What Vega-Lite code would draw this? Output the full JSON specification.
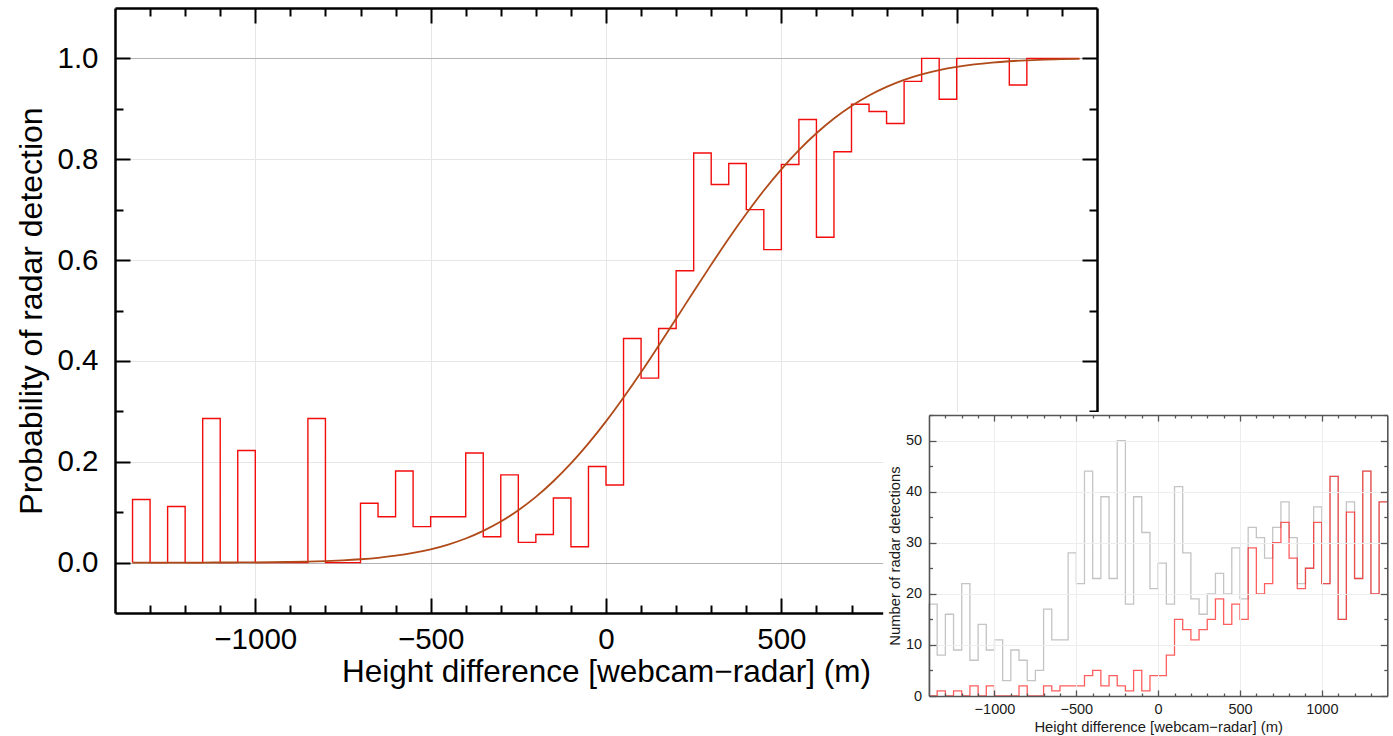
{
  "$schema": "https://vega.github.io/schema/vega-lite/v6.json",
  "width": 982,
  "height": 605,
  "autosize": {"type": "none"},
  "padding": {"left": 115, "top": 8, "right": 296, "bottom": 123},
  "background": "white",
  "config": {
    "view": {"stroke": null},
    "font": "Liberation Sans",
    "axis": {
      "labelFont": "Liberation Sans",
      "titleFont": "Liberation Sans",
      "labelColor": "black",
      "titleColor": "black",
      "titleFontWeight": "normal",
      "tickColor": "black",
      "domainColor": "black",
      "labelOverlap": false,
      "labelFlush": false
    }
  },
  "datasets": {
    "main": [
      {"x": -1350, "p": 0},
      {"x": -1300, "p": 0.125},
      {"x": -1250, "p": 0},
      {"x": -1200, "p": 0.1111},
      {"x": -1150, "p": 0},
      {"x": -1100, "p": 0.2857},
      {"x": -1050, "p": 0},
      {"x": -1000, "p": 0.2222},
      {"x": -950, "p": 0},
      {"x": -900, "p": 0},
      {"x": -850, "p": 0},
      {"x": -800, "p": 0.2857},
      {"x": -750, "p": 0},
      {"x": -700, "p": 0},
      {"x": -650, "p": 0.1176},
      {"x": -600, "p": 0.0909},
      {"x": -550, "p": 0.1818},
      {"x": -500, "p": 0.0714},
      {"x": -450, "p": 0.0909},
      {"x": -400, "p": 0.0909},
      {"x": -350, "p": 0.2174},
      {"x": -300, "p": 0.0513},
      {"x": -250, "p": 0.1739},
      {"x": -200, "p": 0.04},
      {"x": -150, "p": 0.0556},
      {"x": -100, "p": 0.1282},
      {"x": -50, "p": 0.0313},
      {"x": 0, "p": 0.1905},
      {"x": 50, "p": 0.1538},
      {"x": 100, "p": 0.4444},
      {"x": 150, "p": 0.3659},
      {"x": 200, "p": 0.4643},
      {"x": 250, "p": 0.5789},
      {"x": 300, "p": 0.8125},
      {"x": 350, "p": 0.75},
      {"x": 400, "p": 0.7917},
      {"x": 450, "p": 0.7},
      {"x": 500, "p": 0.6207},
      {"x": 550, "p": 0.7895},
      {"x": 600, "p": 0.8788},
      {"x": 650, "p": 0.6452},
      {"x": 700, "p": 0.8148},
      {"x": 750, "p": 0.9091},
      {"x": 800, "p": 0.8947},
      {"x": 850, "p": 0.871},
      {"x": 900, "p": 0.9545},
      {"x": 950, "p": 1.0},
      {"x": 1000, "p": 0.9189},
      {"x": 1050, "p": 1.0},
      {"x": 1100, "p": 1.0},
      {"x": 1150, "p": 1.0},
      {"x": 1200, "p": 0.9474},
      {"x": 1250, "p": 1.0},
      {"x": 1300, "p": 1.0},
      {"x": 1350, "p": 1.0}
    ],
    "curve": [
      {"x": -1350, "p": 0.0000},
      {"x": -1300, "p": 0.0000},
      {"x": -1250, "p": 0.0000},
      {"x": -1200, "p": 0.0001},
      {"x": -1150, "p": 0.0001},
      {"x": -1100, "p": 0.0002},
      {"x": -1050, "p": 0.0003},
      {"x": -1000, "p": 0.0005},
      {"x": -950, "p": 0.0008},
      {"x": -900, "p": 0.0013},
      {"x": -850, "p": 0.0020},
      {"x": -800, "p": 0.0030},
      {"x": -750, "p": 0.0045},
      {"x": -700, "p": 0.0066},
      {"x": -650, "p": 0.0095},
      {"x": -600, "p": 0.0136},
      {"x": -550, "p": 0.0191},
      {"x": -500, "p": 0.0263},
      {"x": -450, "p": 0.0358},
      {"x": -400, "p": 0.0478},
      {"x": -350, "p": 0.0629},
      {"x": -300, "p": 0.0814},
      {"x": -250, "p": 0.1038},
      {"x": -200, "p": 0.1303},
      {"x": -150, "p": 0.1613},
      {"x": -100, "p": 0.1966},
      {"x": -50, "p": 0.2364},
      {"x": 0, "p": 0.2800},
      {"x": 50, "p": 0.3274},
      {"x": 100, "p": 0.3775},
      {"x": 150, "p": 0.4301},
      {"x": 200, "p": 0.4837},
      {"x": 250, "p": 0.5378},
      {"x": 300, "p": 0.5910},
      {"x": 350, "p": 0.6428},
      {"x": 400, "p": 0.6918},
      {"x": 450, "p": 0.7379},
      {"x": 500, "p": 0.7800},
      {"x": 550, "p": 0.8180},
      {"x": 600, "p": 0.8515},
      {"x": 650, "p": 0.8808},
      {"x": 700, "p": 0.9056},
      {"x": 750, "p": 0.9265},
      {"x": 800, "p": 0.9435},
      {"x": 850, "p": 0.9574},
      {"x": 900, "p": 0.9683},
      {"x": 950, "p": 0.9768},
      {"x": 1000, "p": 0.9833},
      {"x": 1050, "p": 0.9882},
      {"x": 1100, "p": 0.9918},
      {"x": 1150, "p": 0.9944},
      {"x": 1200, "p": 0.9962},
      {"x": 1250, "p": 0.9975},
      {"x": 1300, "p": 0.9984},
      {"x": 1350, "p": 0.9990}
    ],
    "inset": [
      {"x": -1400, "all": 0, "detected": 0},
      {"x": -1350, "all": 18, "detected": 0},
      {"x": -1300, "all": 8, "detected": 1},
      {"x": -1250, "all": 16, "detected": 0},
      {"x": -1200, "all": 9, "detected": 1},
      {"x": -1150, "all": 22, "detected": 0},
      {"x": -1100, "all": 7, "detected": 2},
      {"x": -1050, "all": 14, "detected": 0},
      {"x": -1000, "all": 9, "detected": 2},
      {"x": -950, "all": 11, "detected": 0},
      {"x": -900, "all": 3, "detected": 0},
      {"x": -850, "all": 9, "detected": 0},
      {"x": -800, "all": 7, "detected": 2},
      {"x": -750, "all": 3, "detected": 0},
      {"x": -700, "all": 5, "detected": 0},
      {"x": -650, "all": 17, "detected": 2},
      {"x": -600, "all": 11, "detected": 1},
      {"x": -550, "all": 11, "detected": 2},
      {"x": -500, "all": 28, "detected": 2},
      {"x": -450, "all": 22, "detected": 2},
      {"x": -400, "all": 44, "detected": 4},
      {"x": -350, "all": 23, "detected": 5},
      {"x": -300, "all": 39, "detected": 2},
      {"x": -250, "all": 23, "detected": 4},
      {"x": -200, "all": 50, "detected": 2},
      {"x": -150, "all": 18, "detected": 1},
      {"x": -100, "all": 39, "detected": 5},
      {"x": -50, "all": 32, "detected": 1},
      {"x": 0, "all": 21, "detected": 4},
      {"x": 50, "all": 26, "detected": 4},
      {"x": 100, "all": 18, "detected": 8},
      {"x": 150, "all": 41, "detected": 15},
      {"x": 200, "all": 28, "detected": 13},
      {"x": 250, "all": 19, "detected": 11},
      {"x": 300, "all": 16, "detected": 13},
      {"x": 350, "all": 20, "detected": 15},
      {"x": 400, "all": 24, "detected": 19},
      {"x": 450, "all": 20, "detected": 14},
      {"x": 500, "all": 29, "detected": 18},
      {"x": 550, "all": 19, "detected": 15},
      {"x": 600, "all": 33, "detected": 29},
      {"x": 650, "all": 31, "detected": 20},
      {"x": 700, "all": 27, "detected": 22},
      {"x": 750, "all": 33, "detected": 30},
      {"x": 800, "all": 38, "detected": 34},
      {"x": 850, "all": 31, "detected": 27},
      {"x": 900, "all": 22, "detected": 21},
      {"x": 950, "all": 25, "detected": 25},
      {"x": 1000, "all": 37, "detected": 34},
      {"x": 1050, "all": 22, "detected": 22},
      {"x": 1100, "all": 43, "detected": 43},
      {"x": 1150, "all": 15, "detected": 15},
      {"x": 1200, "all": 38, "detected": 36},
      {"x": 1250, "all": 23, "detected": 23},
      {"x": 1300, "all": 44, "detected": 44},
      {"x": 1350, "all": 20, "detected": 20},
      {"x": 1400, "all": 38, "detected": 38}
    ]
  },
  "layer": [
    {
      "layer": [
        {
          "data": {"name": "main"},
          "mark": {"type": "line", "interpolate": "step-before", "color": "#f20c0c", "strokeWidth": 1.4},
          "encoding": {
            "x": {"field": "x", "type": "quantitative",
              "scale": {"domain": [-1400, 1400], "nice": false, "zero": false},
              "axis": {"orient": "bottom", "values": [-1000, -500, 0, 500, 1000], "format": "d",
                "tickSize": -15, "tickWidth": 2, "domainWidth": 2.5, "labelFontSize": 29.5, "labelPadding": 27.5,
                "grid": true, "gridColor": "#e6e6e6", "gridWidth": 1,
                "title": "Height difference [webcam−radar] (m)", "titleFontSize": 31.5, "titleBaseline": "alphabetic", "titleY": 68, "zindex": 0}},
            "y": {"field": "p", "type": "quantitative",
              "scale": {"domain": [-0.1, 1.1], "nice": false, "zero": false},
              "axis": {"orient": "left", "values": [0, 0.2, 0.4, 0.6, 0.8, 1.0], "format": ".1f",
                "tickSize": -15, "tickWidth": 2, "domainWidth": 2.5, "labelFontSize": 29.5, "labelPadding": 32,
                "grid": true, "gridWidth": 1,
                "gridColor": {"condition": {"test": "datum.value === 0 || datum.value === 1", "value": "#b4b4b4"}, "value": "#e6e6e6"},
                "title": "Probability of radar detection", "titleFontSize": 32, "titleBaseline": "alphabetic", "titleX": -74, "zindex": 0}}
          }
        },
        {
          "data": {"name": "curve"},
          "mark": {"type": "line", "interpolate": "monotone", "color": "#b04a18", "strokeWidth": 1.8},
          "encoding": {
            "x": {"field": "x", "type": "quantitative",
              "axis": {"orient": "bottom", "values": [-1300, -1200, -1100, -900, -800, -700, -600, -400, -300, -200, -100, 100, 200, 300, 400, 600, 700, 800, 900, 1100, 1200, 1300],
                "tickSize": -8, "tickWidth": 2, "labels": false, "domain": false, "grid": false, "title": null, "zindex": 0}},
            "y": {"field": "p", "type": "quantitative",
              "axis": {"orient": "left", "values": [0.1, 0.3, 0.5, 0.7, 0.9],
                "tickSize": -8, "tickWidth": 2, "labels": false, "domain": false, "grid": false, "title": null, "zindex": 0}}
          }
        },
        {
          "data": {"name": "curve"},
          "mark": {"type": "line", "strokeOpacity": 0},
          "encoding": {
            "x": {"field": "x", "type": "quantitative",
              "axis": {"orient": "top", "values": [-1000, -500, 0, 500, 1000],
                "tickSize": -15, "tickWidth": 2, "domainWidth": 2.5, "labels": false, "grid": false, "title": null, "zindex": 0}},
            "y": {"field": "p", "type": "quantitative",
              "axis": {"orient": "right", "values": [0, 0.2, 0.4, 0.6, 0.8, 1.0],
                "tickSize": -15, "tickWidth": 2, "domainWidth": 2.5, "labels": false, "grid": false, "title": null, "zindex": 0}}
          }
        },
        {
          "data": {"name": "curve"},
          "mark": {"type": "line", "strokeOpacity": 0},
          "encoding": {
            "x": {"field": "x", "type": "quantitative",
              "axis": {"orient": "top", "values": [-1300, -1200, -1100, -900, -800, -700, -600, -400, -300, -200, -100, 100, 200, 300, 400, 600, 700, 800, 900, 1100, 1200, 1300],
                "tickSize": -8, "tickWidth": 2, "labels": false, "domain": false, "grid": false, "title": null, "zindex": 0}},
            "y": {"field": "p", "type": "quantitative",
              "axis": {"orient": "right", "values": [0.1, 0.3, 0.5, 0.7, 0.9],
                "tickSize": -8, "tickWidth": 2, "labels": false, "domain": false, "grid": false, "title": null, "zindex": 0}}
          }
        }
      ],
      "resolve": {"axis": {"x": "independent", "y": "independent"}}
    },
    {
      "layer": [
        {
          "data": {"values": [{}]},
          "mark": {"type": "rect", "color": "white", "strokeWidth": 0},
          "encoding": {
            "x": {"datum": -1680, "type": "quantitative",
              "scale": {"domain": [-1400, 1400], "range": [814, 1272.3], "nice": false, "zero": false}, "axis": null},
            "x2": {"datum": 1440},
            "y": {"datum": 55.6, "type": "quantitative",
              "scale": {"domain": [0, 55], "range": [688, 407], "nice": false, "zero": false}, "axis": null},
            "y2": {"datum": -8}
          }
        },
        {
          "data": {"name": "inset"},
          "mark": {"type": "line", "interpolate": "step-before", "color": "#c4c4c4", "strokeWidth": 1.3},
          "encoding": {
            "x": {"field": "x", "type": "quantitative",
              "axis": {"orient": "bottom", "offset": 83, "values": [-1000, -500, 0, 500, 1000], "format": "d",
                "tickSize": -6, "tickWidth": 1.3, "tickColor": "#555555", "domainColor": "#555555", "domainWidth": 1.6,
                "labelFontSize": 14.5, "labelPadding": 12, "labelColor": "#1a1a1a",
                "grid": false,
                "title": "Height difference [webcam−radar] (m)", "titleFontSize": 14.8, "titleColor": "#1a1a1a", "titleBaseline": "alphabetic", "titleY": 35.5, "zindex": 1}},
            "y": {"field": "all", "type": "quantitative",
              "axis": {"orient": "left", "offset": -814, "values": [0, 10, 20, 30, 40, 50],
                "tickSize": -7, "tickWidth": 1.3, "tickColor": "#555555", "domainColor": "#555555", "domainWidth": 1.6,
                "labelFontSize": 14.5, "labelPadding": 14.3, "labelColor": "#1a1a1a",
                "grid": true, "gridColor": "#ededed", "gridWidth": 1,
                "title": "Number of radar detections", "titleFontSize": 14.8, "titleColor": "#1a1a1a", "titleBaseline": "alphabetic", "titleX": -30, "zindex": 1}}
          }
        },
        {
          "data": {"name": "inset"},
          "mark": {"type": "line", "interpolate": "step-before", "color": "#ff1a1a", "strokeOpacity": 0.7, "strokeWidth": 1.3},
          "encoding": {
            "x": {"field": "x", "type": "quantitative",
              "axis": {"orient": "bottom", "offset": 83, "values": [-1300, -1200, -1100, -900, -800, -700, -600, -400, -300, -200, -100, 100, 200, 300, 400, 600, 700, 800, 900, 1100, 1200, 1300],
                "tickSize": -3, "tickWidth": 1.3, "tickColor": "#555555", "labels": false, "domain": false, "grid": false, "title": null, "zindex": 1}},
            "y": {"field": "detected", "type": "quantitative",
              "axis": {"orient": "left", "offset": -814, "values": [5, 15, 25, 35, 45, 55],
                "tickSize": -3.5, "tickWidth": 1.3, "tickColor": "#555555", "labels": false, "domain": false, "grid": false, "title": null, "zindex": 1}}
          }
        },
        {
          "data": {"name": "inset"},
          "mark": {"type": "line", "strokeOpacity": 0},
          "encoding": {
            "x": {"field": "x", "type": "quantitative",
              "axis": {"orient": "top", "offset": -407, "values": [-1000, -500, 0, 500, 1000],
                "tickSize": -6, "tickWidth": 1.3, "tickColor": "#555555", "domainColor": "#555555", "domainWidth": 1.6,
                "labels": false, "grid": true, "gridColor": "#ededed", "gridWidth": 1, "title": null, "zindex": 1}},
            "y": {"field": "all", "type": "quantitative",
              "axis": {"orient": "right", "offset": 290.3, "values": [0, 10, 20, 30, 40, 50],
                "tickSize": -7, "tickWidth": 1.3, "tickColor": "#555555", "domainColor": "#555555", "domainWidth": 1.6,
                "labels": false, "grid": false, "title": null, "zindex": 1}}
          }
        },
        {
          "data": {"name": "inset"},
          "mark": {"type": "line", "strokeOpacity": 0},
          "encoding": {
            "x": {"field": "x", "type": "quantitative",
              "axis": {"orient": "top", "offset": -407, "values": [-1300, -1200, -1100, -900, -800, -700, -600, -400, -300, -200, -100, 100, 200, 300, 400, 600, 700, 800, 900, 1100, 1200, 1300],
                "tickSize": -3, "tickWidth": 1.3, "tickColor": "#555555", "labels": false, "domain": false, "grid": false, "title": null, "zindex": 1}},
            "y": {"field": "detected", "type": "quantitative",
              "axis": {"orient": "right", "offset": 290.3, "values": [5, 15, 25, 35, 45, 55],
                "tickSize": -3.5, "tickWidth": 1.3, "tickColor": "#555555", "labels": false, "domain": false, "grid": false, "title": null, "zindex": 1}}
          }
        }
      ],
      "resolve": {"axis": {"x": "independent", "y": "independent"}}
    }
  ],
  "resolve": {"scale": {"x": "independent", "y": "independent"}, "axis": {"x": "independent", "y": "independent"}}
}
